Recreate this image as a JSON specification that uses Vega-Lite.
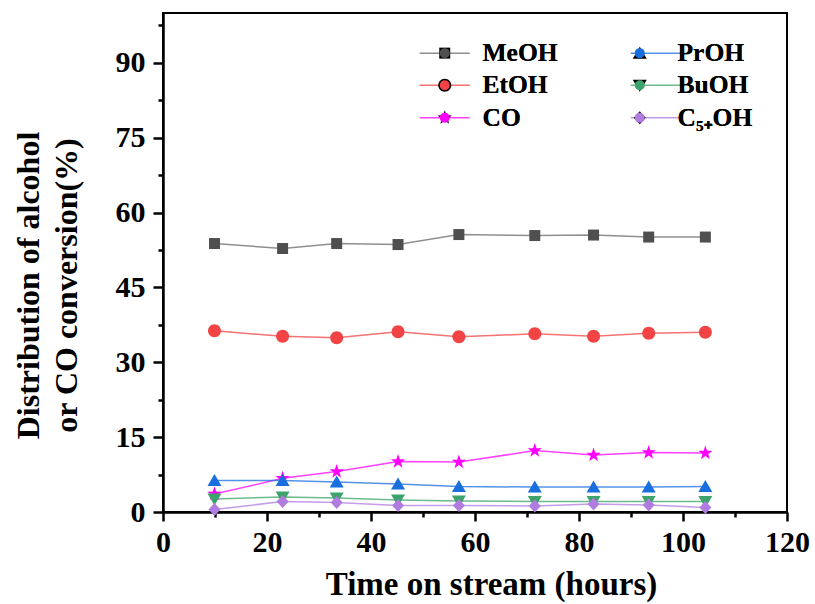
{
  "$schema": "https://vega.github.io/schema/vega-lite/v6.json",
  "width": 624,
  "height": 499,
  "autosize": {"type": "none"},
  "padding": {"left": 163, "top": 13, "right": 28, "bottom": 92},
  "background": "white",
  "config": {
    "view": {"stroke": "black", "strokeWidth": 2},
    "font": "Liberation Serif",
    "axis": {
      "grid": false,
      "domain": true,
      "ticks": true,
      "domainColor": "black",
      "domainWidth": 2,
      "tickColor": "black",
      "tickOpacity": 1,
      "tickWidth": 2.5,
      "labelFont": "Liberation Serif",
      "labelFontWeight": "bold",
      "labelFontSize": 30,
      "labelColor": "black",
      "titleFont": "Liberation Serif",
      "titleFontWeight": "bold",
      "titleFontSize": 32,
      "titleColor": "black"
    },
    "legend": {
      "title": null,
      "orient": "none",
      "legendX": 269,
      "legendY": 27,
      "columns": 2,
      "columnPadding": 69,
      "rowPadding": 5.5,
      "padding": 0,
      "symbolSize": 100,
      "labelOffset": 25,
      "labelFont": "Liberation Serif",
      "labelFontWeight": "bold",
      "labelFontSize": 25.5,
      "labelLimit": 300
    }
  },
  "data": {
    "values": [
      {"time": 9.9, "value": 53.8, "series": "MeOH"},
      {"time": 23.0, "value": 52.8, "series": "MeOH"},
      {"time": 33.4, "value": 53.8, "series": "MeOH"},
      {"time": 45.2, "value": 53.6, "series": "MeOH"},
      {"time": 56.9, "value": 55.6, "series": "MeOH"},
      {"time": 71.5, "value": 55.4, "series": "MeOH"},
      {"time": 82.8, "value": 55.5, "series": "MeOH"},
      {"time": 93.4, "value": 55.1, "series": "MeOH"},
      {"time": 104.3, "value": 55.1, "series": "MeOH"},
      {"time": 9.9, "value": 36.3, "series": "EtOH"},
      {"time": 23.0, "value": 35.2, "series": "EtOH"},
      {"time": 33.4, "value": 34.9, "series": "EtOH"},
      {"time": 45.2, "value": 36.1, "series": "EtOH"},
      {"time": 56.9, "value": 35.1, "series": "EtOH"},
      {"time": 71.5, "value": 35.7, "series": "EtOH"},
      {"time": 82.8, "value": 35.2, "series": "EtOH"},
      {"time": 93.4, "value": 35.8, "series": "EtOH"},
      {"time": 104.3, "value": 36.0, "series": "EtOH"},
      {"time": 9.9, "value": 3.6, "series": "CO"},
      {"time": 23.0, "value": 6.75, "series": "CO"},
      {"time": 33.4, "value": 8.1, "series": "CO"},
      {"time": 45.2, "value": 10.1, "series": "CO"},
      {"time": 56.9, "value": 10.0, "series": "CO"},
      {"time": 71.5, "value": 12.3, "series": "CO"},
      {"time": 82.8, "value": 11.4, "series": "CO"},
      {"time": 93.4, "value": 11.9, "series": "CO"},
      {"time": 104.3, "value": 11.8, "series": "CO"},
      {"time": 9.9, "value": 6.3, "series": "PrOH"},
      {"time": 23.0, "value": 6.3, "series": "PrOH"},
      {"time": 33.4, "value": 6.0, "series": "PrOH"},
      {"time": 45.2, "value": 5.6, "series": "PrOH"},
      {"time": 56.9, "value": 5.1, "series": "PrOH"},
      {"time": 71.5, "value": 5.0, "series": "PrOH"},
      {"time": 82.8, "value": 5.0, "series": "PrOH"},
      {"time": 93.4, "value": 5.0, "series": "PrOH"},
      {"time": 104.3, "value": 5.1, "series": "PrOH"},
      {"time": 9.9, "value": 2.6, "series": "BuOH"},
      {"time": 23.0, "value": 3.0, "series": "BuOH"},
      {"time": 33.4, "value": 2.8, "series": "BuOH"},
      {"time": 45.2, "value": 2.4, "series": "BuOH"},
      {"time": 56.9, "value": 2.2, "series": "BuOH"},
      {"time": 71.5, "value": 2.1, "series": "BuOH"},
      {"time": 82.8, "value": 2.1, "series": "BuOH"},
      {"time": 93.4, "value": 2.1, "series": "BuOH"},
      {"time": 104.3, "value": 2.1, "series": "BuOH"},
      {"time": 9.9, "value": 0.5, "series": "C₅₊OH"},
      {"time": 23.0, "value": 2.1, "series": "C₅₊OH"},
      {"time": 33.4, "value": 1.9, "series": "C₅₊OH"},
      {"time": 45.2, "value": 1.3, "series": "C₅₊OH"},
      {"time": 56.9, "value": 1.3, "series": "C₅₊OH"},
      {"time": 71.5, "value": 1.2, "series": "C₅₊OH"},
      {"time": 82.8, "value": 1.6, "series": "C₅₊OH"},
      {"time": 93.4, "value": 1.4, "series": "C₅₊OH"},
      {"time": 104.3, "value": 0.9, "series": "C₅₊OH"}
    ]
  },
  "layer": [
    {
      "mark": {"type": "line", "strokeWidth": 1.5, "strokeOpacity": 0.75},
      "encoding": {
        "x": {
          "field": "time",
          "type": "quantitative",
          "scale": {"domain": [0, 120], "nice": false, "zero": false},
          "axis": {
            "orient": "bottom",
            "title": null,
            "values": [10, 30, 50, 70, 90, 110],
            "labels": false,
            "tickSize": 5
          }
        },
        "y": {
          "field": "value",
          "type": "quantitative",
          "scale": {"domain": [0, 100], "nice": false, "zero": false},
          "axis": {
            "orient": "left",
            "title": null,
            "values": [7.5, 22.5, 37.5, 52.5, 67.5, 82.5, 97.5],
            "labels": false,
            "tickSize": 5
          }
        },
        "stroke": {
          "field": "series",
          "type": "nominal",
          "scale": {
            "domain": ["MeOH", "EtOH", "CO", "PrOH", "BuOH", "C₅₊OH"],
            "range": ["#6a6a6a", "#f24444", "#ff00ff", "#1a6fdf", "#3ca36a", "#b07ce0"]
          },
          "legend": {
            "symbolType": "M-5,0H5",
            "symbolStrokeWidth": 1.5,
            "symbolOpacity": 0.75,
            "labelColor": "transparent",
            "zindex": 0
          }
        }
      }
    },
    {
      "mark": {"type": "point", "filled": true, "size": 100, "opacity": 1},
      "encoding": {
        "x": {
          "field": "time",
          "type": "quantitative",
          "scale": {"domain": [0, 120], "nice": false, "zero": false},
          "axis": {
            "orient": "bottom",
            "title": "Time on stream (hours)",
            "values": [0, 20, 40, 60, 80, 100, 120],
            "tickSize": 9,
            "labelPadding": 6,
            "labelFlush": false,
            "labelOverlap": false,
            "titleX": 328,
            "titleY": 82,
            "titleBaseline": "alphabetic",
            "titleFontSize": 33
          }
        },
        "y": {
          "field": "value",
          "type": "quantitative",
          "scale": {"domain": [0, 100], "nice": false, "zero": false},
          "axis": {
            "orient": "left",
            "title": ["Distribution of alcohol", "or CO conversion(%)"],
            "values": [0, 15, 30, 45, 60, 75, 90],
            "tickSize": 10,
            "labelPadding": 8,
            "labelFlush": false,
            "labelOverlap": false,
            "titleX": -125,
            "titleY": 272,
            "titleBaseline": "alphabetic",
            "titleLineHeight": 38
          }
        },
        "fill": {
          "field": "series",
          "type": "nominal",
          "sort": ["MeOH", "EtOH", "CO", "PrOH", "BuOH", "C₅₊OH"],
          "scale": {
            "range": ["#4f4f4f", "#f24444", "#ff00ff", "#1a6fdf", "#3ca36a", "#b07ce0"]
          },
          "legend": {
            "labelColor": "black",
            "symbolOpacity": 1,
            "symbolStrokeWidth": 0,
            "zindex": 1
          }
        },
        "shape": {
          "field": "series",
          "type": "nominal",
          "sort": ["MeOH", "EtOH", "CO", "PrOH", "BuOH", "C₅₊OH"],
          "scale": {
            "range": [
              "M-1.1,-1.1H1.1V1.1H-1.1Z",
              "M-1.3,0A1.3,1.3,0,1,1,1.3,0A1.3,1.3,0,1,1,-1.3,0Z",
              "M0,-1.5L0.353,-0.485L1.427,-0.464L0.571,0.185L0.882,1.214L0,0.6L-0.882,1.214L-0.571,0.185L-1.427,-0.464L-0.353,-0.485Z",
              "M0,-1.3L1.4,1.1L-1.4,1.1Z",
              "M0,1.3L1.4,-1.1L-1.4,-1.1Z",
              "M0,-1.3L1.2,0L0,1.3L-1.2,0Z"
            ]
          },
          "legend": {
            "labelColor": "black",
            "symbolOpacity": 1,
            "symbolStrokeWidth": 0,
            "zindex": 1
          }
        }
      }
    }
  ],
  "resolve": {"scale": {"x": "independent", "y": "independent"}, "axis": {"x": "independent", "y": "independent"}}
}
